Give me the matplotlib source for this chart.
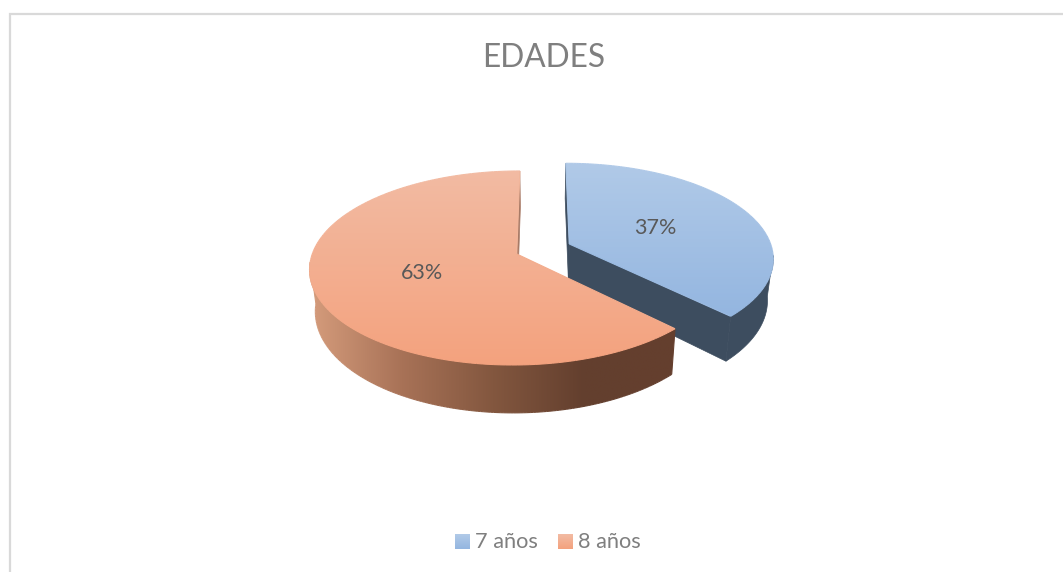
import numpy as np
import matplotlib
matplotlib.use('Agg')
import matplotlib.pyplot as plt
from matplotlib.collections import LineCollection
from matplotlib.colors import LinearSegmentedColormap
from matplotlib.patches import Polygon

plt.rcParams['font.family'] = ['Lato', 'DejaVu Sans']

# Data
title = 'EDADES'
labels = ['7 años', '8 años']
values = [37.49, 62.51]

# Projection of the tilted pie (pixels)
cx, cy = 541.5, 254
rx, ry = 204.5, 95
persp = 0.144
shrink = 0.025
depth = 41
u0 = -0.121
explode = 0.28

# Colours
blue_top = LinearSegmentedColormap.from_list('b', ['#B1CAE8', '#94B6E0'])
orange_top = LinearSegmentedColormap.from_list('o', ['#F2BBA3', '#F4A27E'])
orange_side = LinearSegmentedColormap.from_list('s', ['#D59C7C', '#A87257', '#83573F', '#633F2E', '#653F2E'])
blue_side = '#3D4D5F'
orange_cut = '#A87A66'


def project(u, v, z=0.0):
    s = 1.0 / (1.0 + persp * v)
    return cx + rx * u * s * (1 - shrink * z), cy - (ry * v - depth * z) * s


def arc(u, v, a, b, z=0.0, n=160):
    t = np.radians(np.linspace(a, b, n))
    x, y = project(u + np.sin(t), v + np.cos(t), z)
    return np.column_stack([x, y])


def gradient_poly(ax, pts, cmap, zorder, axis=1):
    # gradient clipped to a polygon, edge stroked to smooth the clip
    y0, y1 = pts[:, 1].min(), pts[:, 1].max()
    x0, x1 = pts[:, 0].min(), pts[:, 0].max()
    ramp = np.linspace(0, 1, 256)
    ramp = ramp.reshape(-1, 1) if axis == 1 else ramp.reshape(1, -1)
    im = ax.imshow(ramp, cmap=cmap, aspect='auto', vmin=0, vmax=1,
                   extent=(x0, x1, y1, y0), zorder=zorder, interpolation='bilinear')
    im.set_clip_path(Polygon(pts, closed=True, transform=ax.transData))
    closed = np.vstack([pts, pts[:1]])
    segs = np.stack([closed[:-1], closed[1:]], axis=1)
    lo, hi = (y0, y1) if axis == 1 else (x0, x1)
    lc = LineCollection(segs, cmap=cmap, linewidths=0.8, zorder=zorder)
    lc.set_array((segs[:, :, axis].mean(axis=1) - lo) / (hi - lo))
    lc.set_clim(0, 1)
    ax.add_collection(lc)


def side_poly(u, v, a, b):
    return np.vstack([arc(u, v, a, b), arc(u, v, b, a, 1.0)])


def cut_face(u, v, a):
    edge = arc(u, v, a, a, n=1)[0]
    edge_b = arc(u, v, a, a, 1.0, n=1)[0]
    tip = np.array(project(u, v))
    tip_b = np.array(project(u, v, 1.0))
    return np.array([tip, edge, edge_b, tip_b])


fig = plt.figure(figsize=(10.63, 5.72), dpi=100)
ax = fig.add_axes([0, 0, 1, 1])

end = 360.0 * values[0] / sum(values)
mid = np.radians(end / 2)
bu, bv = u0 + explode * np.sin(mid), explode * np.cos(mid)

# 7 anos slice, behind
for face in [cut_face(bu, bv, 0), cut_face(bu, bv, end), side_poly(bu, bv, 97, end)]:
    ax.add_patch(Polygon(face, closed=True, fc=blue_side, ec=blue_side, lw=0.5, zorder=2))
blue_pts = np.vstack([[project(bu, bv)], arc(bu, bv, 0, end)])
gradient_poly(ax, blue_pts, blue_top, 3)

# 8 anos slice
ax.add_patch(Polygon(cut_face(u0, 0, 0), closed=True, fc=orange_cut, ec=orange_cut, lw=0.5, zorder=4))
gradient_poly(ax, side_poly(u0, 0, end, 265), orange_side, 5, axis=0)
orange_pts = np.vstack([[project(u0, 0)], arc(u0, 0, end, 360)])
gradient_poly(ax, orange_pts, orange_top, 6)

# percent labels
for i, (u, v, a) in enumerate([(bu, bv, end / 2), (u0, 0, (end + 360) / 2)]):
    t = np.radians(a)
    lx, ly = project(u + 0.48 * np.sin(t), v + 0.48 * np.cos(t))
    ax.text(lx - 0.5, ly + 1, '%d%%' % round(values[i]), ha='center', va='center', fontsize=15.5, color='#595959', zorder=8)

ax.text(544, 58, title, ha='center', va='center', fontsize=22.8, color='#7F7F7F')

# legend
swatches = [(455, blue_top), (558, orange_top)]
for (sx, cm), lab in zip(swatches, labels):
    ax.imshow(np.linspace(0, 1, 32).reshape(-1, 1), cmap=cm, aspect='auto', extent=(sx, sx + 15, 549, 534), vmin=0, vmax=1)
    ax.text(sx + 20, 541.5, lab, ha='left', va='center', fontsize=15.7, color='#7F7F7F')

# chart frame
ax.plot([10, 10, 1063], [572, 14, 14], color='#D9D9D9', lw=1.6, solid_joinstyle='miter')

ax.set_xlim(0, 1063)
ax.set_ylim(572, 0)
ax.axis('off')
fig.savefig('out.png', dpi=100)
